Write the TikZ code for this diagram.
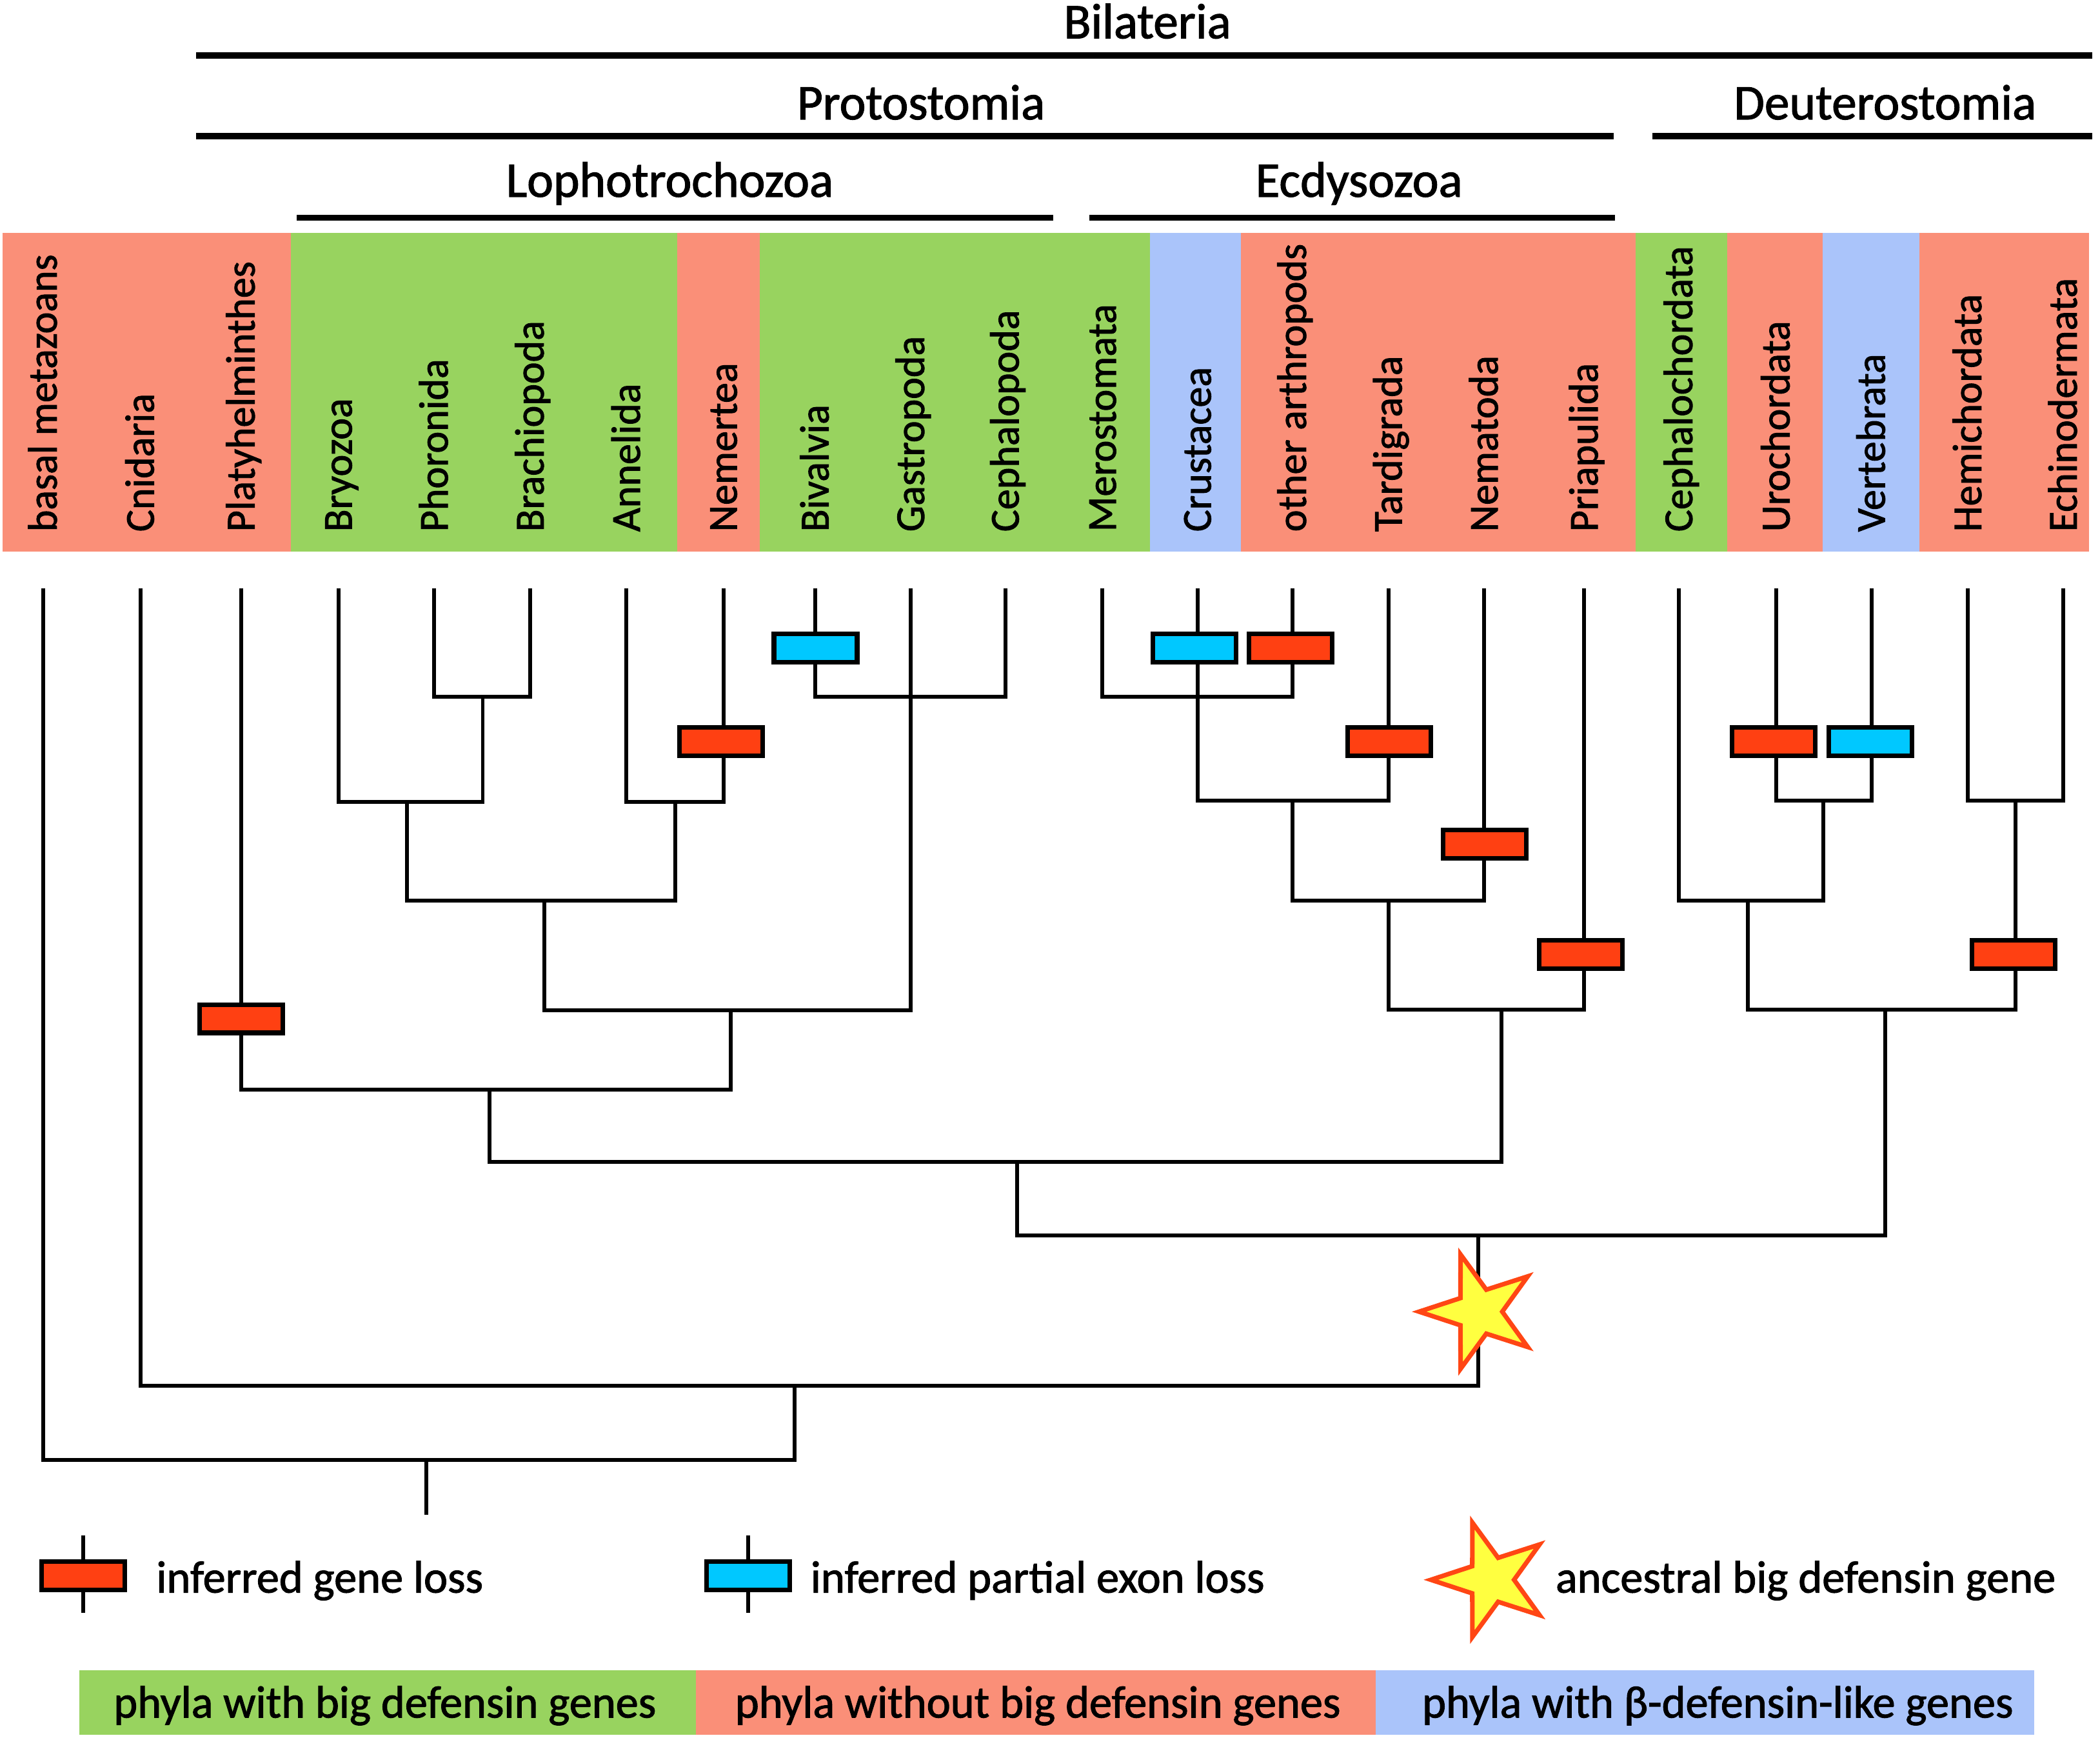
\documentclass[tikz,border=0pt]{standalone}
\usepackage{fontspec}
\setmainfont{Carlito}[FakeBold=1.5]
\newfontfamily\legendfont{Carlito}[FakeBold=1.5]
\usetikzlibrary{shapes.geometric}

\definecolor{salmonband}{RGB}{250,143,120}
\definecolor{greenband}{RGB}{152,211,95}
\definecolor{blueband}{RGB}{170,196,250}
\definecolor{lossred}{RGB}{255,64,18}
\definecolor{exonblue}{RGB}{0,200,255}
\definecolor{staredge}{RGB}{255,70,20}
\definecolor{starfill}{RGB}{255,255,64}

\begin{document}
\begin{tikzpicture}[x=0.020832cm, y=-0.020832cm,
  branch/.style={line width=1.7pt},
  cladebar/.style={line width=2.7pt},
  cladename/.style={inner sep=0pt, anchor=base, font=\fontsize{22}{26}\selectfont},
  taxon/.style={inner sep=0pt, anchor=base west, rotate=90, font=\fontsize{18.2}{22}\selectfont},
  lossbox/.style={draw=black, line width=2pt, fill=lossred, inner sep=0pt, minimum width=36.7pt, minimum height=12.5pt},
  exonbox/.style={lossbox, fill=exonblue},
  ancestor/.style={star, star points=5, star point ratio=2.6, shape border rotate=90, draw=staredge, fill=starfill, line width=2pt, inner sep=0pt, minimum size=53pt},
  legendtext/.style={inner sep=0pt, anchor=base west, font=\legendfont\fontsize{20}{24}\selectfont},
  bartext/.style={inner sep=0pt, anchor=base, font=\legendfont\fontsize{20}{24}\selectfont}]

\useasboundingbox (0,0) rectangle (1563,1293.2);

% clade names
\node[cladename] (Bil) at (854,28.5) {Bilateria};
\node[cladename] (Pro) at (685.5,88.8) {Protostomia};
\node[cladename] (Deu) at (1403,88.8) {Deuterostomia};
\node[cladename] (Lop) at (498.5,146.4) {Lophotrochozoa};
\node[cladename] (Ecd) at (1011.5,146.4) {Ecdysozoa};

\draw[cladebar] (146,41.2) -- (1557,41.2);
\draw[cladebar] (146,101.3) -- (1201,101.3);
\draw[cladebar] (1230,101.3) -- (1557,101.3);
\draw[cladebar] (221,162) -- (784,162);
\draw[cladebar] (811,162) -- (1202,162);

% colour bands behind the taxa
\fill[salmonband] (2,173.3) rectangle (216.7,410.5);
\fill[greenband] (216.7,173.3) rectangle (504,410.5);
\fill[salmonband] (504,173.3) rectangle (565.5,410.5);
\fill[greenband] (565.5,173.3) rectangle (856,410.5);
\fill[blueband] (856,173.3) rectangle (923.6,410.5);
\fill[salmonband] (923.6,173.3) rectangle (1217.6,410.5);
\fill[greenband] (1217.6,173.3) rectangle (1285.6,410.5);
\fill[salmonband] (1285.6,173.3) rectangle (1356.6,410.5);
\fill[blueband] (1356.6,173.3) rectangle (1428.6,410.5);
\fill[salmonband] (1428.6,173.3) rectangle (1554.8,410.5);

% taxa
\node[taxon] at (42.2,396) {basal metazoans};
\node[taxon] at (114.5,396) {Cnidaria};
\node[taxon] at (189.5,396) {Platyhelminthes};
\node[taxon] at (261.8,396) {Bryozoa};
\node[taxon] at (333.2,396) {Phoronida};
\node[taxon] at (404.6,396) {Brachiopoda};
\node[taxon] at (476.3,396) {Annelida};
\node[taxon] at (548.4,396) {Nemertea};
\node[taxon] at (616.7,396) {Bivalvia};
\node[taxon] at (687.8,396) {Gastropoda};
\node[taxon] at (758.2,396) {Cephalopoda};
\node[taxon] at (830.5,396) {Merostomata};
\node[taxon] at (901.2,396) {Crustacea};
\node[taxon] at (972,396) {other arthropods};
\node[taxon] at (1043.3,396) {Tardigrada};
\node[taxon] at (1114.7,396) {Nematoda};
\node[taxon] at (1189.1,396) {Priapulida};
\node[taxon] at (1259.5,396) {Cephalochordata};
\node[taxon] at (1331.9,396) {Urochordata};
\node[taxon] at (1402.9,396) {Vertebrata};
\node[taxon] at (1474.6,396) {Hemichordata};
\node[taxon] at (1545.7,396) {Echinodermata};

% tips
\coordinate (basal) at (32.2,437.6);
\coordinate (cnid) at (104.5,437.6);
\coordinate (platy) at (179.5,437.6);
\coordinate (bryo) at (251.8,437.6);
\coordinate (phor) at (323.2,437.6);
\coordinate (brach) at (394.6,437.6);
\coordinate (ann) at (466.3,437.6);
\coordinate (nem) at (538.4,437.6);
\coordinate (biv) at (606.7,437.6);
\coordinate (gast) at (677.8,437.6);
\coordinate (ceph) at (748.2,437.6);
\coordinate (mero) at (820.5,437.6);
\coordinate (crus) at (891.2,437.6);
\coordinate (oarth) at (962,437.6);
\coordinate (tard) at (1033.3,437.6);
\coordinate (nema) at (1104.7,437.6);
\coordinate (pria) at (1179.1,437.6);
\coordinate (cephc) at (1249.5,437.6);
\coordinate (uro) at (1321.9,437.6);
\coordinate (vert) at (1392.9,437.6);
\coordinate (hemi) at (1464.6,437.6);
\coordinate (echi) at (1535.7,437.6);

% internal nodes
\coordinate (phbr) at (359.3,518.4);
\coordinate (bryo3) at (303,596.5);
\coordinate (annem) at (502.4,596.5);
\coordinate (lopho1) at (405,669.9);
\coordinate (moll) at (677.8,518.4);
\coordinate (lopho) at (543.8,751.7);
\coordinate (lophoP) at (364.3,810.6);
\coordinate (arth) at (891.2,518.4);
\coordinate (arthT) at (962,595.8);
\coordinate (arthN) at (1033.3,669.9);
\coordinate (ecdy) at (1117.5,751.2);
\coordinate (proto) at (757.2,864.5);
\coordinate (urove) at (1357.2,595.5);
\coordinate (chord) at (1301,669.9);
\coordinate (ambul) at (1500.3,595.8);
\coordinate (deut) at (1403,751.2);
\coordinate (bila) at (1100.2,919.2);
\coordinate (cnbi) at (591.5,1031);
\coordinate (metaz) at (317.4,1086.2);
\coordinate (root) at (317.4,1127.3);

% branches
\draw[branch] (phor) |- (phbr) -| (brach);
\draw[branch] (bryo) |- (bryo3) -| (phbr);
\draw[branch] (ann) |- (annem) -| (nem);
\draw[branch] (bryo3) |- (lopho1) -| (annem);
\draw[branch] (biv) |- (moll) -| (ceph);
\draw[branch] (gast) -- (moll);
\draw[branch] (lopho1) |- (lopho) -| (moll);
\draw[branch] (platy) |- (lophoP) -| (lopho);
\draw[branch] (mero) |- (arth) -| (oarth);
\draw[branch] (crus) -- (arth);
\draw[branch] (arth) |- (arthT) -| (tard);
\draw[branch] (arthT) |- (arthN) -| (nema);
\draw[branch] (arthN) |- (ecdy) -| (pria);
\draw[branch] (lophoP) |- (proto) -| (ecdy);
\draw[branch] (uro) |- (urove) -| (vert);
\draw[branch] (cephc) |- (chord) -| (urove);
\draw[branch] (hemi) |- (ambul) -| (echi);
\draw[branch] (chord) |- (deut) -| (ambul);
\draw[branch] (proto) |- (bila) -| (deut);
\draw[branch] (cnid) |- (cnbi) -| (bila);
\draw[branch] (basal) |- (metaz) -| (cnbi);
\draw[branch] (metaz) -- (root);

% losses on the branches
\node[lossbox] (gl-platy) at (179.5,758) {};
\node[lossbox] (gl-nem) at (536.5,552) {};
\node[exonbox] (el-biv) at (607,482) {};
\node[exonbox] (el-crus) at (889,482) {};
\node[lossbox] (gl-oarth) at (960.5,482) {};
\node[lossbox] (gl-tard) at (1034,552) {};
\node[lossbox] (gl-nema) at (1105,628) {};
\node[lossbox] (gl-pria) at (1176.5,710) {};
\node[lossbox] (gl-uro) at (1320.3,552) {};
\node[exonbox] (el-vert) at (1392,552) {};
\node[lossbox] (gl-ambul) at (1498.8,710) {};

\node[ancestor] (anc) at (1100.9,976) {};

% legend
\coordinate (lgA1) at (61.7,1142.5);
\coordinate (lgA2) at (61.7,1200);
\draw[branch] (lgA1) -- (lgA2);
\node[lossbox] (lgA) at (61.7,1172.5) {};
\node[legendtext] (lgAtxt) at (116,1185) {inferred gene loss};

\coordinate (lgB1) at (556.8,1142.5);
\coordinate (lgB2) at (556.8,1200);
\draw[branch] (lgB1) -- (lgB2);
\node[exonbox] (lgB) at (556.8,1172.5) {};
\node[legendtext] (lgBtxt) at (603,1185) {inferred partial exon loss};

\node[ancestor] (lgC) at (1109.7,1175.5) {};
\node[legendtext] (lgCtxt) at (1157.5,1185) {ancestral big defensin gene};

\fill[greenband] (59,1243) rectangle (518,1291);
\fill[salmonband] (518,1243) rectangle (1024,1291);
\fill[blueband] (1024,1243) rectangle (1514,1291);
\node[bartext] (barA) at (286.5,1278) {phyla with big defensin genes};
\node[bartext] (barB) at (772.5,1278) {phyla without big defensin genes};
\node[bartext] (barC) at (1278.5,1278) {phyla with β-defensin-like genes};

\end{tikzpicture}
\end{document}
